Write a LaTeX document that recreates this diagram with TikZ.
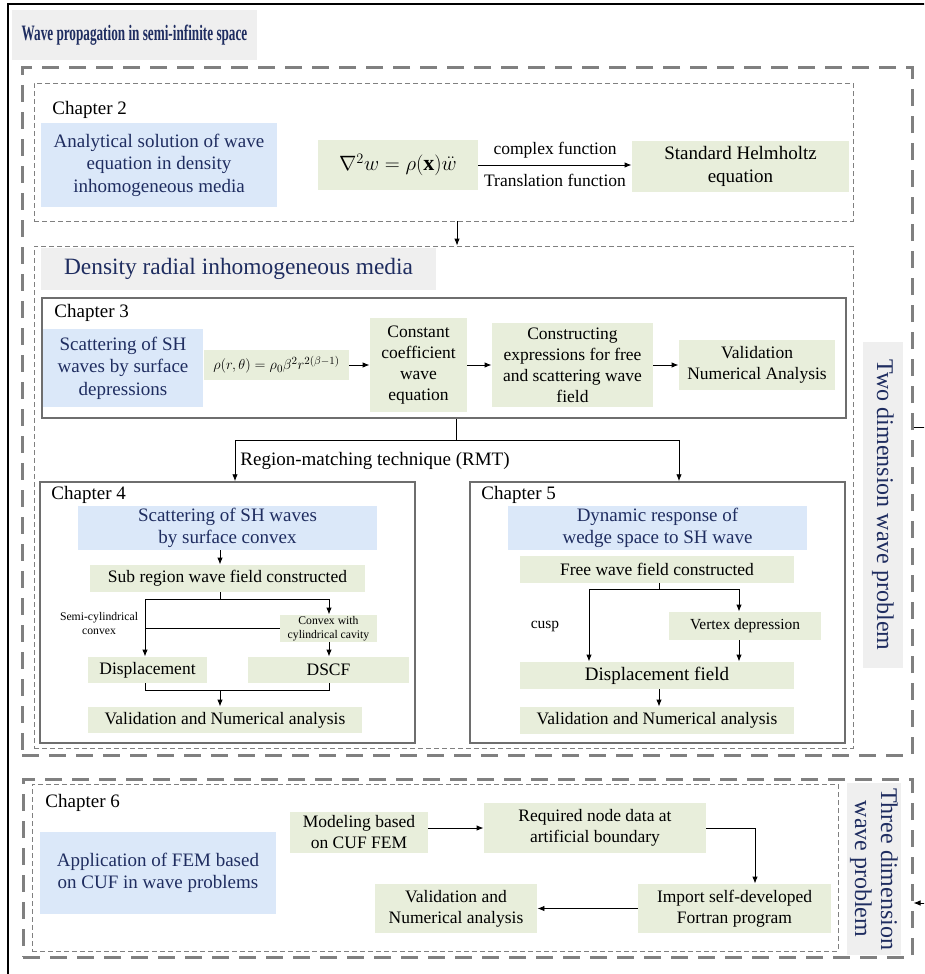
\documentclass[tikz,border=0pt]{standalone}
\usepackage{fontspec}
\setmainfont{Liberation Serif}
\usetikzlibrary{arrows.meta}

\definecolor{navy}{RGB}{31,45,96}
\definecolor{bluefill}{RGB}{219,232,249}
\definecolor{greenfill}{RGB}{232,238,219}
\definecolor{grayfill}{RGB}{239,239,239}
\definecolor{framegray}{RGB}{128,128,128}
\definecolor{chgray}{RGB}{110,110,110}

\newcommand{\fsbig}{\fontsize{19}{22.5}\selectfont}
\newcommand{\fsmid}{\fontsize{17.5}{21}\selectfont}
\newcommand{\fssmall}{\fontsize{11.7}{14}\selectfont}
\newcommand{\fsvert}{\fontsize{24}{26}\selectfont}

\tikzset{
  boxsize/.style 2 args={minimum width=#1pt, minimum height=#2pt},
  thickframe/.style={draw=framegray, dash pattern=on 17pt off 10pt, line width=3pt, inner sep=0pt},
  thinframe/.style={draw=framegray, dash pattern=on 5pt off 3pt, line width=0.8pt, inner sep=0pt},
  chbox/.style={draw=chgray, line width=1.5pt, inner sep=0pt},
  bluebox/.style={fill=bluefill, text=navy, align=center, inner sep=0pt, font=\fsbig},
  greenbox/.style={fill=greenfill, align=center, inner sep=0pt, font=\fsmid},
  graybox/.style={fill=grayfill, text=navy, align=center, inner sep=0pt},
  chlabel/.style={anchor=west, inner sep=0pt, font=\fsbig},
  note/.style={inner sep=0pt, align=center}
}

\begin{document}
\begin{tikzpicture}[x=1pt, y=-1pt, >={Latex[length=7pt,width=5.5pt]}, line width=0.9pt]
\useasboundingbox (0,0) rectangle (924,974);

% frames
\node[thickframe, boxsize={890}{687}] (frame2d) at (467,411.5) {};
\node[thickframe, boxsize={889}{178}] (frame3d) at (467.5,868) {};
\node[thinframe, boxsize={819}{138}] (ch2) at (443.5,152) {};
\node[thinframe, boxsize={819}{502}] (dens) at (443.5,497) {};
\node[thinframe, boxsize={806}{167}] (ch6) at (435,867.5) {};
\node[chbox, boxsize={804}{120}] (ch3) at (444,358) {};
\node[chbox, boxsize={375}{261}] (ch4) at (227.5,612.5) {};
\node[chbox, boxsize={375}{261}] (ch5) at (657.5,612.5) {};

\node[graybox, boxsize={245}{50}] (title) at (134.5,35)
  {\scalebox{0.6}[1]{\fontsize{22}{24}\selectfont\bfseries Wave propagation in semi-infinite space}};

% chapter 2
\node[chlabel] (ch2lab) at (52,110) {Chapter 2};
\node[bluebox, boxsize={236}{84}] (ana) at (159,165) {Analytical solution of wave\\equation in density\\inhomogeneous media};
\node[greenbox, boxsize={160}{50}, font=\fontsize{22}{24}\selectfont] (waveeq) at (398,165) {$\nabla^2 w=\rho(\mathbf{x})\ddot{w}$};
\node[greenbox, boxsize={217}{51}, font=\fsbig] (helm) at (740.5,166.5) {Standard Helmholtz\\equation};
\draw[->] (waveeq.east) -- (waveeq.east -| helm.west)
  node[midway, above=6pt, note, font=\fsmid] (cplx) {complex function}
  node[midway, below=9pt, note, font=\fsmid] (trans) {Translation function};
\draw[->] ([xshift=13.5pt]ch2.south) -- ([xshift=13.5pt]dens.north);

% chapter 3
\node[graybox, boxsize={395}{42}, font=\fontsize{23.4}{26}\selectfont] (denstitle) at (238.5,269) {Density radial inhomogeneous media};
\node[chlabel] (ch3lab) at (54,313) {Chapter 3};
\node[bluebox, boxsize={160}{78}] (scat3) at (123,368) {Scattering of SH\\waves by surface\\depressions};
\node[greenbox, boxsize={145}{30}, font=\fontsize{15.8}{18}\selectfont] (rho) at (276.5,365) {$\rho(r,\theta)=\rho_0\beta^2r^{2(\beta-1)}$};
\node[greenbox, boxsize={97}{94}] (const) at (418.5,365) {Constant\\coefficient\\wave\\equation};
\node[greenbox, boxsize={161}{84}] (constr) at (572.5,365) {Constructing\\expressions for free\\and scattering wave\\field};
\node[greenbox, boxsize={156}{50}] (valid3) at (757,365) {Validation\\Numerical Analysis};
\draw[->] (rho) -- (const);
\draw[->] (const) -- (constr);
\draw[->] (constr) -- (valid3);

% region matching
\coordinate (split) at (456,440);
\coordinate (rmtL) at (235,440);
\coordinate (rmtR) at (679,440);
\draw (ch3.south -| split) -- (split);
\draw (rmtL) -- (rmtR);
\draw[->] (rmtL) -- (rmtL |- ch4.north);
\draw[->] (rmtR) -- (rmtR |- ch5.north);
\node[note, font=\fsbig, anchor=west] (rmt) at (240,461) {Region-matching technique (RMT)};

% chapter 4
\node[chlabel] (ch4lab) at (51,495) {Chapter 4};
\node[bluebox, boxsize={299}{44}] (scat4) at (227.5,528) {Scattering of SH waves\\by surface convex};
\node[greenbox, boxsize={275}{27}] (sub) at (227.5,578.5) {Sub region wave field constructed};
\node[greenbox, boxsize={97}{27}, font=\fssmall] (convex) at (328.5,628.5) {Convex with\\cylindrical cavity};
\node[note, font=\fssmall] (semi) at (99,623) {Semi-cylindrical\\convex};
\node[greenbox, boxsize={119}{26}] (disp4) at (147.5,670) {Displacement};
\node[greenbox, boxsize={161}{26}] (dscf) at (328.5,670) {DSCF};
\node[greenbox, boxsize={274}{26}] (valid4) at (225,720) {Validation and Numerical analysis};
\coordinate (sub4) at (220,599);
\coordinate (left4) at (145,599);
\coordinate (right4) at (329,599);
\coordinate (join4) at (220,690);
\draw[->] (scat4.south -| sub4) -- (sub.north -| sub4);
\draw (sub.south -| sub4) -- (sub4);
\draw (left4) -- (right4);
\draw[->] (right4) -- (right4 |- convex.north);
\draw[->] (left4) -- (left4 |- disp4.north);
\draw (convex.west) -- (convex.west -| left4);
\draw[->] (convex.south -| right4) -- (dscf.north -| right4);
\draw (disp4.south -| left4) -- (join4 -| left4) -- (join4 -| right4) -- (dscf.south -| right4);
\draw[->] (join4) -- (valid4.north -| join4);

% chapter 5
\node[chlabel] (ch5lab) at (481,495) {Chapter 5};
\node[bluebox, boxsize={299}{44}] (wedge) at (657.5,528) {Dynamic response of\\wedge space to SH wave};
\node[greenbox, boxsize={274}{27}] (free) at (657,569.5) {Free wave field constructed};
\node[greenbox, boxsize={152}{28}, font=\fontsize{15.4}{18}\selectfont] (vertex) at (745,626) {Vertex depression};
\node[note, font=\fontsize{15.5}{18}\selectfont] (cusp) at (545,626) {cusp};
\node[greenbox, boxsize={274}{27}, font=\fsbig] (dispf) at (657,675.5) {Displacement field};
\node[greenbox, boxsize={274}{27}] (valid5) at (657,720.5) {Validation and Numerical analysis};
\coordinate (sub5) at (659,589);
\coordinate (left5) at (589,589);
\coordinate (right5) at (739,589);
\draw (free.south -| sub5) -- (sub5);
\draw (left5) -- (right5);
\draw[->] (right5) -- (right5 |- vertex.north);
\draw[->] (left5) -- (left5 |- dispf.north);
\draw[->] (vertex.south -| right5) -- (dispf.north -| right5);
\draw[->] (dispf.south -| sub5) -- (valid5.north -| sub5);

\node[graybox, rotate=-90, boxsize={326}{40}, font=\fsvert] (twod) at (883,505) {Two dimension wave problem};

% chapter 6
\node[chlabel] (ch6lab) at (45,803) {Chapter 6};
\node[bluebox, boxsize={236}{82}] (fem) at (158,873) {Application of FEM based\\on CUF in wave problems};
\node[greenbox, boxsize={138}{41}] (model) at (359,832.5) {Modeling based\\on CUF FEM};
\node[greenbox, boxsize={222}{50}] (req) at (595,828) {Required node data at\\artificial boundary};
\node[greenbox, boxsize={193}{49}] (import) at (734.5,908.5) {Import self-developed\\Fortran program};
\node[greenbox, boxsize={162}{49}] (valid6) at (456,908.5) {Validation and\\Numerical analysis};
\coordinate (reqturn) at (755,828);
\draw[->] (req.west -| model.east) -- (req.west);
\draw[->] (req.east) -- (reqturn) -- (reqturn |- import.north);
\draw[->] (import.west) -- (valid6.east);

\node[graybox, rotate=-90, boxsize={172}{54}, font=\fsvert] (threed) at (874,869) {Three dimension\\wave problem};

% outer border and link 2D -> 3D
\begin{scope}
\clip (0,0) rectangle (924,974);
\draw[line width=1.5pt] (8,4) rectangle (960,1000);
\coordinate (out2d) at (frame2d.east |- 0,427);
\coordinate (in3d) at (frame3d.east |- 0,903);
\draw[->] (out2d) -- ++(25,0) |- (in3d);
\end{scope}
\end{tikzpicture}
\end{document}
